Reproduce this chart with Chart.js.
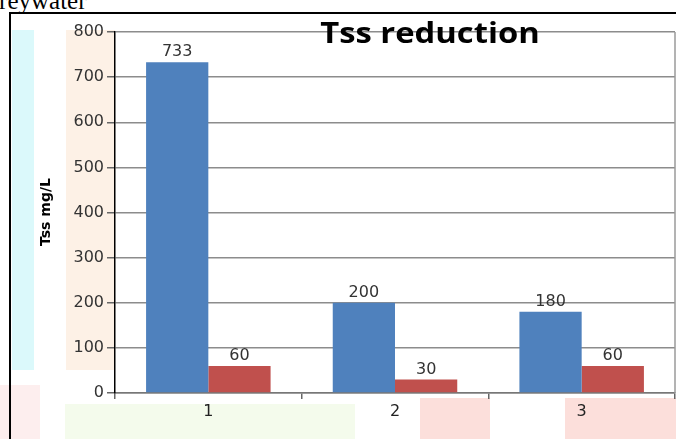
<!DOCTYPE html>
<html>
<head>
<meta charset="utf-8">
<script src="https://cdn.jsdelivr.net/npm/chart.js@4/dist/chart.umd.min.js"></script>
<style>
    html, body { margin: 0; padding: 0; background: #fff; }
    #wrap { position: relative; width: 676px; height: 439px; overflow: hidden; }
    .wm { position: absolute; }
    #chartCanvas { position: absolute; left: 0; top: 0; }
    #topText {
        position: absolute; left: -19px; top: -13px; line-height: 25px;
        font: 25px "Liberation Serif", serif; color: #000; white-space: nowrap;
    }
    #frame {
        position: absolute; left: 9px; top: 12px; width: 700px; height: 460px;
        border-left: 2px solid #000; border-top: 2px solid #000;
    }
</style>
</head>
<body>
<div id="wrap">
    <!-- faded watermark colours behind the chart -->
    <div class="wm" style="left:12px;top:30px;width:22px;height:340px;background:#dbf9fb;"></div>
    <div class="wm" style="left:66px;top:30px;width:49px;height:340px;background:#fdf1e6;"></div>
    <div class="wm" style="left:0px;top:385px;width:40px;height:60px;background:#fdeeee;"></div>
    <div class="wm" style="left:65px;top:404px;width:290px;height:40px;background:#f4fbec;"></div>
    <div class="wm" style="left:420px;top:398px;width:70px;height:45px;background:#fcdfdb;"></div>
    <div class="wm" style="left:565px;top:398px;width:111px;height:45px;background:#fcdfdb;"></div>
    <div id="topText">Greywater</div>
    <div id="frame"></div>
    <canvas id="chartCanvas" width="676" height="439"></canvas>
</div>
<script>
    const categories = ['1', '2', '3'];
    const tssBefore = [733, 200, 180];
    const tssAfter = [60, 30, 60];
    const yMin = 0;
    const yMax = 800;
    const yStep = 100;

    const chartTitle = 'Tss reduction';
    const yTitle = 'Tss mg/L';

    const tickFont = { family: '"DejaVu Sans", sans-serif', size: 16 };

    const plotDecor = {
        id: 'plotDecor',
        beforeDraw(chart) {
            const { ctx, chartArea: a } = chart;
            ctx.save();
            ctx.fillStyle = '#fff';
            ctx.fillRect(a.left, a.top, a.right - a.left, a.bottom - a.top);
            ctx.restore();
        },
        afterDatasetsDraw(chart) {
            const { ctx } = chart;
            ctx.save();
            ctx.font = '16px "DejaVu Sans", sans-serif';
            ctx.fillStyle = '#333';
            ctx.textAlign = 'center';
            ctx.textBaseline = 'bottom';
            chart.data.datasets.forEach((ds, i) => {
                chart.getDatasetMeta(i).data.forEach((bar, j) => {
                    ctx.fillText(String(ds.data[j]), bar.x, bar.y - 2);
                });
            });
            ctx.restore();
        },
        afterDraw(chart) {
            const { ctx, chartArea: a } = chart;
            ctx.save();
            // right edge of plot box
            ctx.strokeStyle = '#9a9a9a';
            ctx.lineWidth = 1.5;
            ctx.beginPath();
            ctx.moveTo(a.right, a.top);
            ctx.lineTo(a.right, a.bottom);
            ctx.stroke();

            ctx.fillStyle = '#000';
            ctx.textAlign = 'center';
            ctx.textBaseline = 'alphabetic';
            ctx.font = 'bold 29px "Open Sans", sans-serif';
            ctx.save();
            ctx.translate(430, 43);
            ctx.scale(1.13, 1);
            ctx.fillText(chartTitle, 0, 0);
            ctx.restore();

            ctx.translate(46, 212);
            ctx.rotate(-Math.PI / 2);
            ctx.textBaseline = 'middle';
            ctx.font = 'bold 14px "DejaVu Sans", sans-serif';
            ctx.fillText(yTitle, 0, 0);
            ctx.restore();
        },
    };

    new Chart(document.getElementById('chartCanvas'), {
        type: 'bar',
        data: {
            labels: categories,
            datasets: [
                {
                    label: 'Before',
                    data: tssBefore,
                    backgroundColor: '#4f81bd',
                    categoryPercentage: 0.667,
                    barPercentage: 1.0,
                },
                {
                    label: 'After',
                    data: tssAfter,
                    backgroundColor: '#c0504d',
                    categoryPercentage: 0.667,
                    barPercentage: 1.0,
                },
            ],
        },
        options: {
            responsive: false,
            animation: false,
            devicePixelRatio: 1,
            layout: { padding: { left: 0, right: 1, top: 32, bottom: 0 } },
            plugins: {
                legend: { display: false },
                title: { display: false },
                tooltip: { enabled: false },
            },
            scales: {
                x: {
                    afterFit(scale) { scale.height = 46; },
                    grid: {
                        display: true,
                        drawOnChartArea: false,
                        drawTicks: true,
                        tickLength: 6,
                        color: '#666',
                        lineWidth: 1.5,
                    },
                    border: { color: '#777', width: 1.5 },
                    ticks: { color: '#222', font: tickFont, padding: 3 },
                },
                y: {
                    min: yMin,
                    max: yMax,
                    afterFit(scale) { scale.width = 115; },
                    ticks: { stepSize: yStep, color: '#333', font: tickFont, padding: 3 },
                    grid: {
                        color: '#8c8c8c',
                        lineWidth: 1.5,
                        tickLength: 8,
                        tickColor: '#666',
                    },
                    border: { color: '#000', width: 1.5 },
                },
            },
        },
        plugins: [plotDecor],
    });
</script>
</body>
</html>
